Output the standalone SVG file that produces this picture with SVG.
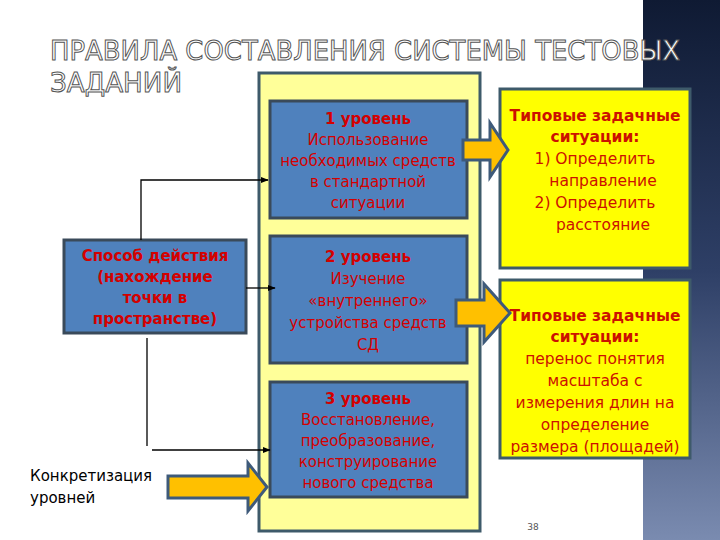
<svg xmlns="http://www.w3.org/2000/svg" width="720" height="540" viewBox="0 0 720 540">
<defs>
<linearGradient id="dk" x1="0" y1="0" x2="0" y2="1"><stop offset="0" stop-color="#0f1a33"/><stop offset="0.5" stop-color="#2e3f66"/><stop offset="1" stop-color="#7a8bb0"/></linearGradient>
<marker id="ah" viewBox="0 0 10 10" refX="9" refY="5" markerWidth="6" markerHeight="6" orient="auto"><path d="M0,1 L10,5 L0,9 z" fill="#000"/></marker>
</defs>
<style>
.blue{fill:#4f81bd;stroke:#3a4a5a;stroke-width:3}
.yel{fill:#ffff00;stroke:#3e5a6a;stroke-width:3}
.t{font-family:"DejaVu Sans",sans-serif;font-size:15px;fill:#d40000;text-anchor:middle}
.tr{font-family:"DejaVu Sans",sans-serif;font-size:15.5px;fill:#cc1100;text-anchor:middle}
.b{font-weight:bold}
.ln{stroke:#000;stroke-width:1.3;fill:none}
.arr{fill:#ffc000;stroke:#3e5a7a;stroke-width:3}
</style>
<rect width="720" height="540" fill="#fff"/>
<rect x="643" y="0" width="77" height="540" fill="url(#dk)"/>
<g id="title" font-family="DejaVu Sans,sans-serif" font-size="27" fill="#fff" stroke="#555" stroke-width="1">
<text x="50" y="60" textLength="630" lengthAdjust="spacingAndGlyphs">ПРАВИЛА СОСТАВЛЕНИЯ СИСТЕМЫ ТЕСТОВЫХ</text>
<text x="50" y="92" textLength="132" lengthAdjust="spacingAndGlyphs">ЗАДАНИЙ</text>
</g>
<g id="panel"><rect x="259" y="73" width="221" height="458" fill="#ffff99" stroke="#3e5a6a" stroke-width="3"/></g>
<g id="level1"><rect class="blue" x="270" y="101" width="197" height="117"/>
<text class="t"><tspan x="368" y="124" class="b">1 уровень</tspan><tspan x="368" y="145">Использование</tspan><tspan x="368" y="166">необходимых средств</tspan><tspan x="368" y="187">в стандартной</tspan><tspan x="368" y="208">ситуации</tspan></text></g>
<g id="level2"><rect class="blue" x="270" y="236" width="197" height="127"/>
<text class="t"><tspan x="368" y="262" class="b">2 уровень</tspan><tspan x="368" y="284">Изучение</tspan><tspan x="368" y="306">«внутреннего»</tspan><tspan x="368" y="328">устройства средств</tspan><tspan x="368" y="350">СД</tspan></text></g>
<g id="level3"><rect class="blue" x="270" y="382" width="197" height="115"/>
<text class="t"><tspan x="368" y="404" class="b">3 уровень</tspan><tspan x="368" y="425">Восстановление,</tspan><tspan x="368" y="446">преобразование,</tspan><tspan x="368" y="467">конструирование</tspan><tspan x="368" y="488">нового средства</tspan></text></g>
<g id="method"><rect class="blue" x="64" y="240" width="182" height="93"/>
<text class="t b"><tspan x="155" y="261">Способ действия</tspan><tspan x="155" y="282">(нахождение</tspan><tspan x="155" y="303">точки в</tspan><tspan x="155" y="324">пространстве)</tspan></text></g>
<g id="concr"><text font-family="DejaVu Sans,sans-serif" font-size="15" fill="#000"><tspan x="30" y="481">Конкретизация</tspan><tspan x="30" y="503">уровней</tspan></text></g>
<g id="sit1"><rect class="yel" x="500" y="89" width="190" height="179"/>
<text class="tr"><tspan x="595" y="121" class="b">Типовые задачные</tspan><tspan x="595" y="142" class="b">ситуации:</tspan><tspan x="595" y="164">1) Определить</tspan><tspan x="603" y="186">направление</tspan><tspan x="595" y="208">2) Определить</tspan><tspan x="603" y="230">расстояние</tspan></text></g>
<g id="sit2"><rect class="yel" x="500" y="280" width="190" height="178"/>
<text class="tr"><tspan x="595" y="321" class="b">Типовые задачные</tspan><tspan x="595" y="342" class="b">ситуации:</tspan><tspan x="595" y="364">перенос понятия</tspan><tspan x="595" y="386">масштаба с</tspan><tspan x="595" y="408">измерения длин на</tspan><tspan x="595" y="430">определение</tspan><tspan x="595" y="452">размера (площадей)</tspan></text></g>
<g id="connectors">
<path class="arr" d="M463,140 L490,140 L490,123 L508,150 L490,177 L490,160 L463,160 z"/>
<path class="arr" d="M456,300 L484,300 L484,284 L510,313 L484,342 L484,326 L456,326 z"/>
<path class="arr" d="M168,476 L248,476 L248,463 L267,487 L248,511 L248,498 L168,498 z"/>
<path class="ln" d="M141,240 V180 H268" marker-end="url(#ah)"/>
<path class="ln" d="M246,288 H275" marker-end="url(#ah)"/>
<path class="ln" d="M147,338 V446"/>
<path class="ln" d="M152,450 H270" marker-end="url(#ah)"/>
</g>
<text x="533" y="530" font-family="DejaVu Sans,sans-serif" font-size="9" fill="#555" text-anchor="middle">38</text>
</svg>
